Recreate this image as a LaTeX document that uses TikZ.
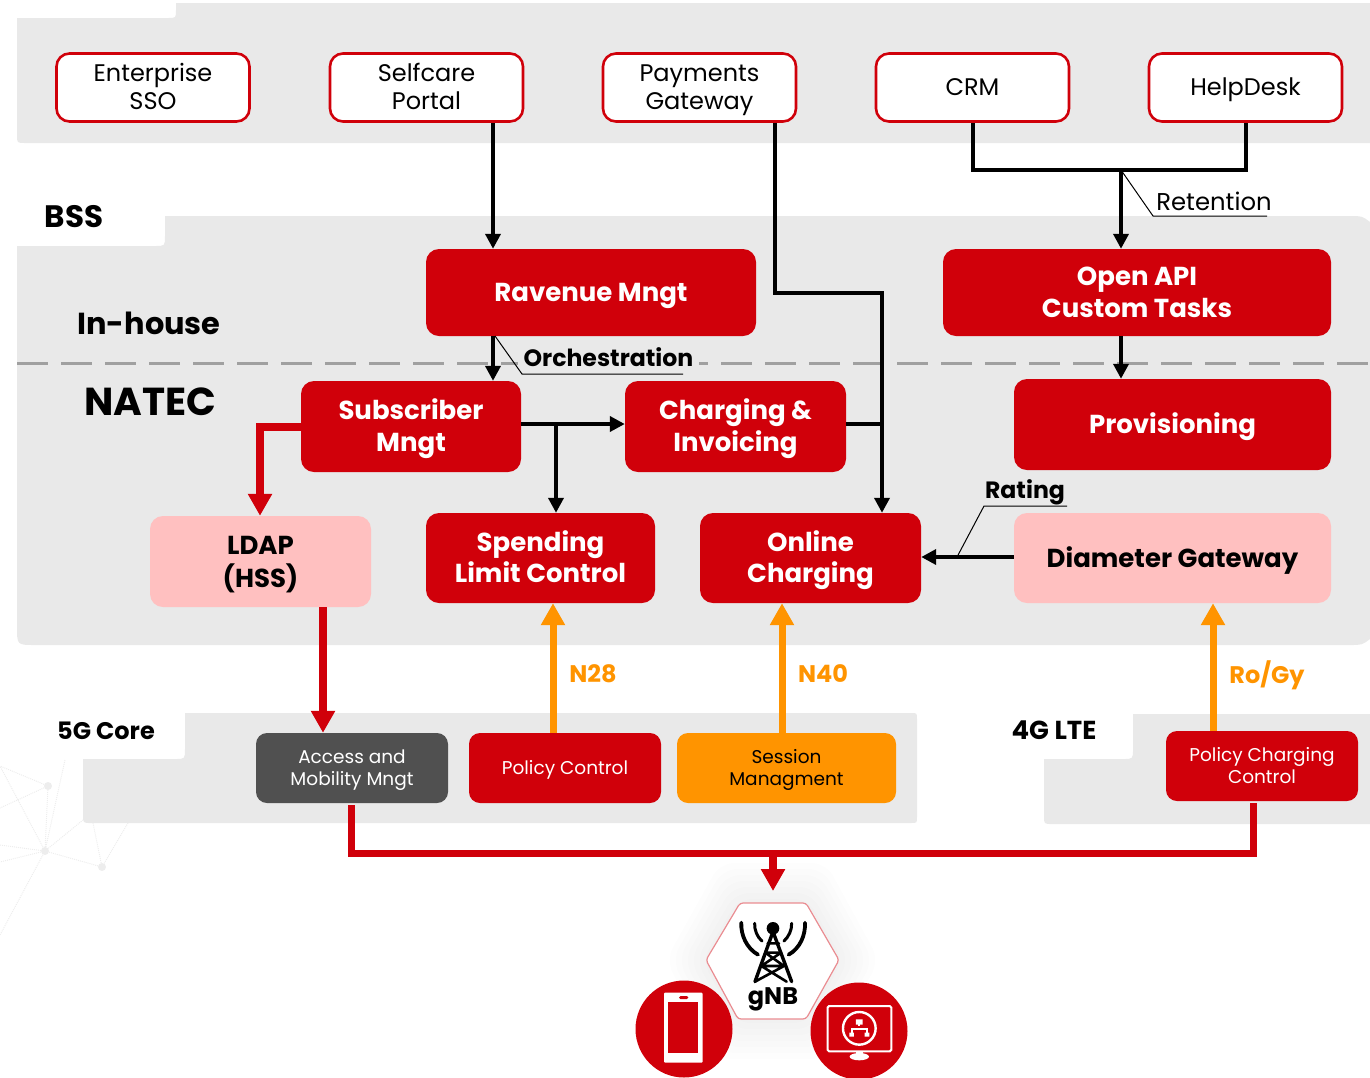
\documentclass[tikz,border=0pt]{standalone}
\usepackage{fontspec}
\setmainfont{Poppins}
\usetikzlibrary{arrows.meta,calc}
\definecolor{natred}{HTML}{D0000A}
\definecolor{natpink}{HTML}{FFC0C0}
\definecolor{natorange}{HTML}{FF9400}
\definecolor{natpanel}{HTML}{E9E9E9}
\definecolor{natdark}{HTML}{505050}
\definecolor{natdash}{HTML}{A0A0A0}
\definecolor{natnet}{HTML}{EDEDED}
\newcommand{\natTop}{\rule{0pt}{1.15em}}
\newcommand{\natBot}{\rule[-0.45em]{0pt}{0.45em}}
\newcommand{\natOne}[1]{\natTop #1\natBot}
\newcommand{\natTwo}[2]{\begin{tabular}{@{}c@{}}\natTop #1\\#2\natBot\end{tabular}}
\tikzset{
  basebox/.style={rounded corners=13,inner sep=0pt},
  outbox/.style={basebox,draw=natred,line width=2.6pt,fill=white,text=black,minimum width=193,minimum height=68,font=\fontsize{24}{28}\selectfont},
  redbox/.style={basebox,fill=natred,text=white,font=\fontsize{26}{31.5}\selectfont\bfseries},
  pinkbox/.style={basebox,fill=natpink,text=black,font=\fontsize{26}{31.5}\selectfont\bfseries},
  smallbox/.style={basebox,text=white,rounded corners=11,minimum width=192,minimum height=70,font=\fontsize{18.5}{22}\selectfont},
  blackarrow/.style={draw=black,line width=3.7pt,-{Triangle[length=15pt,width=15pt]}},
  blackline/.style={draw=black,line width=3.7pt},
  redarrow/.style={draw=natred,line width=7.5pt,-{Triangle[length=22pt,width=23pt]}},
  redline/.style={draw=natred,line width=7pt},
  orangearrow/.style={draw=natorange,line width=7pt,-{Triangle[length=22pt,width=23pt]}},
  leader/.style={draw=black,line width=1pt},
  linelabel/.style={inner sep=0pt,text=black,font=\fontsize{24.3}{28}\selectfont},
  boldlabel/.style={inner sep=0pt,text=black,font=\fontsize{23.6}{28}\selectfont\bfseries},
  orangelabel/.style={inner sep=0pt,text=natorange,font=\fontsize{24}{28}\selectfont\bfseries},
  titlelabel/.style={inner sep=0pt,text=black},
  netline/.style={draw=natnet,line width=1pt,densely dotted},
  netdot/.style={circle,fill=natnet,inner sep=0pt,minimum size=8pt},
  disc/.style={circle,fill=natred,inner sep=0pt,minimum size=97pt},
}
\begin{document}
\begin{tikzpicture}[x=1pt,y=-1pt]
\useasboundingbox (0,0) rectangle (1370,1077);
% background network decoration
\node[netdot] (n1) at (48,786) {};
\node[netdot] (n2) at (45,851) {};
\node[netdot] (n3) at (102,867) {};
\coordinate (e1) at (0,766); \coordinate (e2) at (0,808); \coordinate (e3) at (0,845);
\coordinate (e4) at (0,862); \coordinate (e5) at (0,935); \coordinate (e6) at (65,760);
\coordinate (e7) at (83,820); \coordinate (e8) at (93,823); \coordinate (e9) at (128,823);
\draw[netline] (n1)--(e1) (n1)--(e2) (n1)--(n2) (n2)--(e1) (n2)--(e3) (n2)--(e4) (n2)--(e5) (n2)--(e6) (n2)--(e7) (n2)--(n3) (n3)--(e8) (n3)--(e9);
% panels
\fill[natpanel] (176,3)--(1370,3)--(1370,143)--(25,143) .. controls (17,143) .. (17,135)--(17,18)--(168,18) .. controls (176,18) .. (176,10)--cycle;
\fill[natpanel] (165,216)--(1350,216) .. controls (1362,216) .. (1370,222)--(1370,639) .. controls (1362,645) .. (1350,645)--(35,645) .. controls (17,645) .. (17,627)--(17,246)--(155,246) .. controls (165,246) .. (165,236)--cycle;
\fill[natpanel] (185,713)--(911,713) .. controls (917,713) .. (917,719)--(917,817) .. controls (917,823) .. (911,823)--(91,823) .. controls (83,823) .. (83,815)--(83,759)--(175,759) .. controls (185,759) .. (185,749)--cycle;
\fill[natpanel] (1133,714)--(1370,714)--(1370,824)--(1052,824) .. controls (1044,824) .. (1044,816)--(1044,759)--(1123,759) .. controls (1133,759) .. (1133,749)--cycle;
% dashed separator
\coordinate (sepL) at (17,363.5); \coordinate (sepR) at (1370,363.5);
\draw[draw=natdash,line width=3.4pt,dash pattern=on 31pt off 13pt] (sepL)--(sepR);
% titles
\node[titlelabel,font=\fontsize{31}{36}\selectfont\bfseries] (bss) at (74,217) {BSS};
\node[titlelabel,font=\fontsize{30.4}{36}\selectfont\bfseries] (inhouse) at (149,323) {In-house};
\node[titlelabel,font=\fontsize{39}{44}\selectfont\bfseries] (natec) at (150,402) {NATEC};
\node[titlelabel,font=\fontsize{24}{28}\selectfont\bfseries] (core5g) at (106,731) {5G Core};
\node[titlelabel,font=\fontsize{26}{30}\selectfont\bfseries] (lte4g) at (1054,730) {4G LTE};
% top boxes
\node[outbox] (sso) at (153,87.5) {\natTwo{Enterprise}{SSO}};
\node[outbox] (selfcare) at (426.5,87.5) {\natTwo{Selfcare}{Portal}};
\node[outbox] (payments) at (699.5,87.5) {\natTwo{Payments}{Gateway}};
\node[outbox] (crm) at (972.5,87.5) {\natOne{CRM}};
\node[outbox] (helpdesk) at (1245.5,87.5) {\natOne{HelpDesk}};
% main boxes
\node[redbox,minimum width=330,minimum height=87] (revenue) at (591,292.5) {\natOne{Ravenue Mngt}};
\node[redbox,minimum width=388,minimum height=87] (openapi) at (1137,292.5) {\natTwo{Open API}{Custom Tasks}};
\node[redbox,minimum width=220,minimum height=91] (subscriber) at (411,426.5) {\natTwo{Subscriber}{Mngt}};
\node[redbox,minimum width=221,minimum height=91] (charging) at (735.5,426.5) {\natTwo{Charging \&}{Invoicing}};
\node[redbox,minimum width=317,minimum height=91] (provisioning) at (1172.5,424.5) {\natOne{Provisioning}};
\node[pinkbox,minimum width=221,minimum height=91] (ldap) at (260.5,561.5) {\natTwo{LDAP}{(HSS)}};
\node[redbox,minimum width=229,minimum height=90] (spending) at (540.5,558) {\natTwo{Spending}{Limit Control}};
\node[redbox,minimum width=221,minimum height=90] (online) at (810.5,558) {\natTwo{Online}{Charging}};
\node[pinkbox,minimum width=317,minimum height=90] (diameter) at (1172.5,558) {\natOne{Diameter Gateway}};
% small boxes
\node[smallbox,fill=natdark] (amf) at (352,768) {\natTwo{Access and}{Mobility Mngt}};
\node[smallbox,fill=natred] (pcf) at (565,768) {\natOne{Policy Control}};
\node[smallbox,fill=natorange,text=black,minimum width=219] (smf) at (786.5,768) {\natTwo{Session}{Managment}};
\node[smallbox,fill=natred] (pcc) at (1262,766) {\natTwo{Policy Charging}{Control}};
% gNB hexagon with soft halo
\foreach \g in {40,34,28,22,16,10,4}{
  \fill[black,opacity=0.009,rounded corners=14] (706-\g,960)--(740-\g/2,903-\g)--(806+\g/2,903-\g)--(839+\g,960)--(806+\g/2,1019+\g)--(738-\g/2,1019+\g)--cycle;
}
\coordinate (hexTop) at (773,891);
\path[fill=white,draw=natred!45,line width=1.2pt,rounded corners=3] (706,960)--(740,903)--(806,903)--(839,960)--(806,1019)--(738,1019)--cycle;
\node[inner sep=0pt,text=black,font=\fontsize{24}{28}\selectfont\bfseries] (gnb) at (773,999) {gNB};
% tower icon (zoom coordinates)
\begin{scope}[shift={(600,860)},x=0.3333pt,y=-0.3333pt,line cap=round,line join=round]
  \fill[black] (519,205) circle (19);
  \draw[line width=3.4pt] (519,215)--(465,365) (519,215)--(575,365);
  \draw[line width=2.6pt] (503,250)--(537,250) (496,278)--(543,278) (496,278)--(552,318) (543,278)--(484,318) (484,318)--(560,365) (552,318)--(465,365) (484,318)--(552,318);
  \draw[line width=3.8pt] (424,188) .. controls (422,225) and (440,265) .. (474,284);
  \draw[line width=3.8pt] (615,188) .. controls (617,225) and (600,265) .. (566,284);
  \draw[line width=3pt] (464,190) .. controls (463,210) and (472,232) .. (486,243);
  \draw[line width=3pt] (575,190) .. controls (576,210) and (565,232) .. (552,243);
\end{scope}
% device discs
\node[disc] (phone) at (684,1029) {};
\node[disc] (screen) at (859,1031) {};
\begin{scope}[shift={(600,860)},x=0.3333pt,y=-0.3333pt]
  \fill[white,rounded corners=1pt] (192,398) rectangle (308,608);
  \fill[natred] (205,427) rectangle (295,580);
  \fill[natred,rounded corners=1.5pt] (237,408) rectangle (265,417);
  \draw[white,line width=2pt,rounded corners=1.5pt] (683,438) rectangle (874,574);
  \draw[white,line width=2.4pt] (778,505) circle (49);
  \draw[white,line width=2pt] (778,484)--(778,498) (755,526)--(755,506)--(801,506)--(801,526);
  \fill[white] (768,478) rectangle (788,494) (748,518) rectangle (762,530) (794,518) rectangle (808,530);
  \fill[white] (768,574) rectangle (788,582);
  \fill[white] (778,590) ellipse (29 and 11);
\end{scope}
% helper coordinates
\coordinate (x260) at (260,0); \coordinate (x323) at (323,0); \coordinate (x351) at (351,0);
\coordinate (x493) at (493,0); \coordinate (x553) at (553,0); \coordinate (x556) at (556,0);
\coordinate (x775) at (775,0); \coordinate (x782) at (782,0); \coordinate (x882) at (882,0);
\coordinate (x973) at (973,0); \coordinate (x1121) at (1121,0); \coordinate (x1213) at (1213,0);
\coordinate (x1246) at (1246,0); \coordinate (x1253) at (1253,0); \coordinate (x773) at (773,0);
\coordinate (y293) at (0,293); \coordinate (y424) at (0,424); \coordinate (y427) at (0,427);
\coordinate (y170) at (0,170); \coordinate (y557) at (0,557); \coordinate (y853) at (0,853);
% black connectors
\draw[blackarrow] (selfcare.south -| x493) -- (revenue.north -| x493);
\draw[blackarrow] (payments.south -| x775) -- (x775 |- y293) -- (x882 |- y293) -- (online.north -| x882);
\draw[blackline] (charging.east |- y424) -- (x882 |- y424);
\coordinate (junction) at (x1121 |- y170);
\draw[blackline,line join=miter] (crm.south -| x973) -- (x973 |- y170) -- (x1246 |- y170) -- (helpdesk.south -| x1246);
\draw[blackarrow] (junction) -- (openapi.north -| x1121);
\draw[blackarrow] (revenue.south -| x493) -- (subscriber.north -| x493);
\draw[blackarrow] (openapi.south -| x1121) -- (provisioning.north -| x1121);
\draw[blackarrow] (subscriber.east |- y424) -- (charging.west |- y424);
\coordinate (split) at (x556 |- y424);
\draw[blackarrow] (split) -- (spending.north -| x556);
\draw[blackarrow] (diameter.west |- y557) -- (online.east |- y557);
% red and orange connectors
\draw[redarrow,line join=miter] (subscriber.west |- y427) -- (x260 |- y427) -- (ldap.north -| x260);
\draw[redarrow] (ldap.south -| x323) -- (amf.north -| x323);
\draw[redline,line join=miter,shorten <=2pt,shorten >=2pt] (amf.south -| x351) -- (x351 |- y853) -- (x1253 |- y853) -- (pcc.south -| x1253);
\draw[redarrow] (x773 |- y853) -- (hexTop);
\draw[orangearrow] (pcf.north -| x553) -- (spending.south -| x553);
\draw[orangearrow] (smf.north -| x782) -- (online.south -| x782);
\draw[orangearrow] (pcc.north -| x1213) -- (diameter.south -| x1213);
% labels with leaders
\node[orangelabel] (n28) at (593,674) {N28};
\node[orangelabel] (n40) at (823,674) {N40};
\node[orangelabel] (rogy) at (1267,675) {Ro/Gy};
\node[linelabel] (retention) at (1214,201) {Retention};
\node[boldlabel,fill=natpanel,inner xsep=6pt,inner ysep=1pt] (orch) at (608.5,357.5) {Orchestration};
\node[boldlabel] (rating) at (1025,492) {Rating};
\coordinate (retA) at (1153,216); \coordinate (retB) at (1267,216);
\draw[leader] (junction) -- (retA) -- (retB);
\coordinate (orA) at (495,336); \coordinate (orB) at (522,374); \coordinate (orC) at (683,374);
\draw[leader] (orA) -- (orB) -- (orC);
\coordinate (raA) at (957,557); \coordinate (raB) at (984,506); \coordinate (raC) at (1067,506);
\draw[leader] (raA) -- (raB) -- (raC);
\end{tikzpicture}
\end{document}
